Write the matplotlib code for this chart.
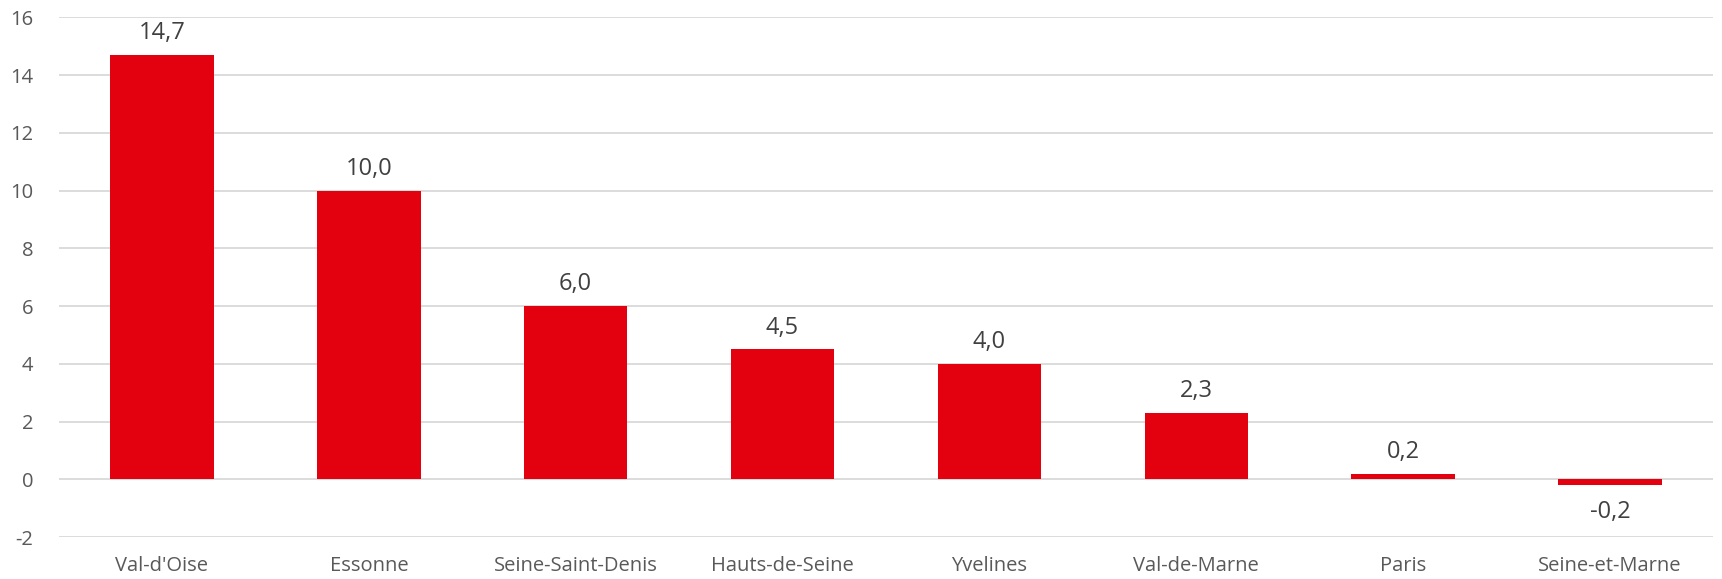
import matplotlib
matplotlib.use("Agg")
import matplotlib.pyplot as plt

categories = ["Val-d'Oise", "Essonne", "Seine-Saint-Denis", "Hauts-de-Seine",
              "Yvelines", "Val-de-Marne", "Paris", "Seine-et-Marne"]
values = [14.7, 10.0, 6.0, 4.5, 4.0, 2.3, 0.2, -0.2]
yticks = [-2, 0, 2, 4, 6, 8, 10, 12, 14, 16]

plt.rcParams['font.family'] = ['Open Sans', 'DejaVu Sans']

fig = plt.figure(figsize=(17.22, 5.79), dpi=100)
ax = fig.add_axes([0.034, 0.0725, 0.961, 0.8975])

x = list(range(len(categories)))
bars = ax.bar(x, values, width=0.5, color="#e3000f", zorder=3)

for xi, v in zip(x, values):
    label = f"{v:.1f}".replace(".", ",")
    if v >= 0:
        ax.annotate(label, (xi, v), xytext=(0, 7), textcoords="offset points",
                    ha="center", va="bottom", fontsize=17, color="#404040")
    else:
        ax.annotate(label, (xi, v), xytext=(0, -11), textcoords="offset points",
                    ha="center", va="top", fontsize=17, color="#404040")

ax.set_xlim(-0.5, len(categories) - 0.5)
ax.set_ylim(-2, 16)
ax.set_yticks(yticks)
ax.set_yticklabels([str(t) for t in yticks])
ax.set_xticks(x)
ax.set_xticklabels(categories)
ax.tick_params(axis="both", length=0, labelsize=14.5, colors="#595959")
ax.tick_params(axis="y", pad=18)
ax.tick_params(axis="x", pad=14)
ax.grid(axis="y", color="#d9d9d9", linewidth=1.3, zorder=0)
ax.set_axisbelow(True)
for s in ax.spines.values():
    s.set_visible(False)

fig.savefig("out.png", dpi=100)
